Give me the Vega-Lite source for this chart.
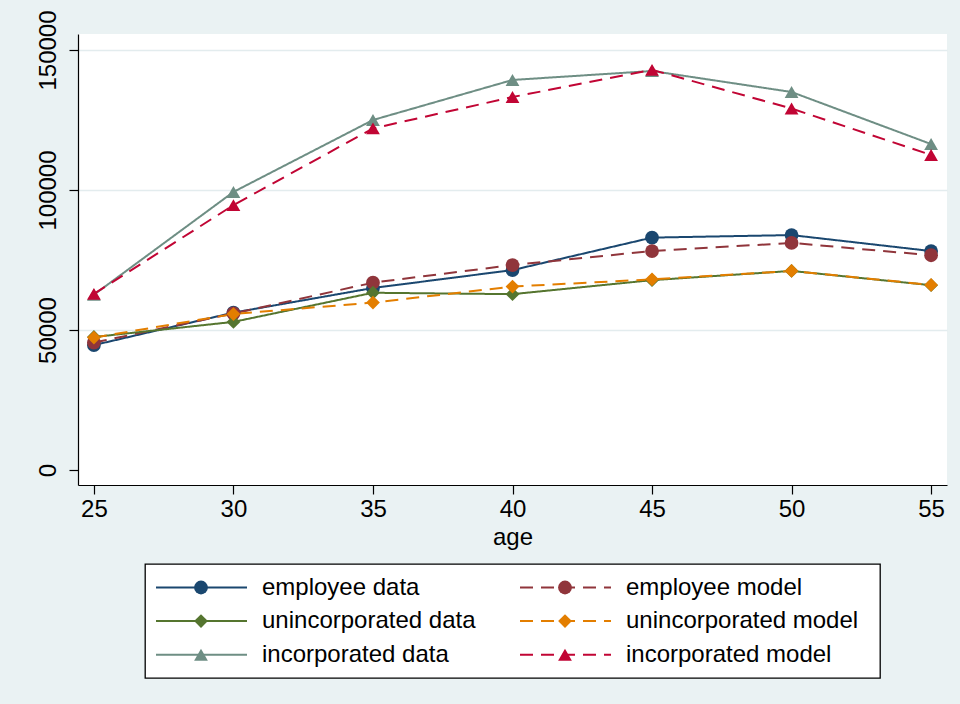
{
  "$schema": "https://vega.github.io/schema/vega-lite/v6.json",
  "autosize": {"type": "pad"},
  "padding": {"left": 35, "top": 9, "right": 14, "bottom": 27},
  "background": "#EAF2F3",
  "bounds": "flush",
  "center": true,
  "spacing": 79,
  "config": {
    "view": {"fill": "white", "stroke": null},
    "font": "Liberation Sans",
    "axis": {
      "labelFont": "Liberation Sans",
      "labelFontSize": 24,
      "labelColor": "black",
      "titleFont": "Liberation Sans",
      "titleFontSize": 24,
      "titleFontWeight": "normal",
      "titleColor": "black",
      "domainColor": "black",
      "domainWidth": 1.2,
      "tickColor": "black",
      "tickWidth": 1.2,
      "tickSize": 9
    }
  },
  "datasets": {
    "points": [
      {"series": "employee data", "age": 25, "value": 44600},
      {"series": "employee data", "age": 30, "value": 56200},
      {"series": "employee data", "age": 35, "value": 65000},
      {"series": "employee data", "age": 40, "value": 71400},
      {"series": "employee data", "age": 45, "value": 83000},
      {"series": "employee data", "age": 50, "value": 83900},
      {"series": "employee data", "age": 55, "value": 78200},
      {"series": "employee model", "age": 25, "value": 45500},
      {"series": "employee model", "age": 30, "value": 55900},
      {"series": "employee model", "age": 35, "value": 66900},
      {"series": "employee model", "age": 40, "value": 73200},
      {"series": "employee model", "age": 45, "value": 78200},
      {"series": "employee model", "age": 50, "value": 81100},
      {"series": "employee model", "age": 55, "value": 76700},
      {"series": "unincorporated data", "age": 25, "value": 47500},
      {"series": "unincorporated data", "age": 30, "value": 52900},
      {"series": "unincorporated data", "age": 35, "value": 63300},
      {"series": "unincorporated data", "age": 40, "value": 62800},
      {"series": "unincorporated data", "age": 45, "value": 67800},
      {"series": "unincorporated data", "age": 50, "value": 71100},
      {"series": "unincorporated data", "age": 55, "value": 66000},
      {"series": "unincorporated model", "age": 25, "value": 47300},
      {"series": "unincorporated model", "age": 30, "value": 55700},
      {"series": "unincorporated model", "age": 35, "value": 59800},
      {"series": "unincorporated model", "age": 40, "value": 65500},
      {"series": "unincorporated model", "age": 45, "value": 68100},
      {"series": "unincorporated model", "age": 50, "value": 71100},
      {"series": "unincorporated model", "age": 55, "value": 66100},
      {"series": "incorporated data", "age": 25, "value": 62600},
      {"series": "incorporated data", "age": 30, "value": 99300},
      {"series": "incorporated data", "age": 35, "value": 125000},
      {"series": "incorporated data", "age": 40, "value": 139300},
      {"series": "incorporated data", "age": 45, "value": 142500},
      {"series": "incorporated data", "age": 50, "value": 135000},
      {"series": "incorporated data", "age": 55, "value": 116400},
      {"series": "incorporated model", "age": 25, "value": 62900},
      {"series": "incorporated model", "age": 30, "value": 94600},
      {"series": "incorporated model", "age": 35, "value": 122000},
      {"series": "incorporated model", "age": 40, "value": 133200},
      {"series": "incorporated model", "age": 45, "value": 142900},
      {"series": "incorporated model", "age": 50, "value": 129100},
      {"series": "incorporated model", "age": 55, "value": 112500}
    ],
    "legendEntries": [
      {"series": "employee data", "group": "employee", "kind": "data"},
      {"series": "employee model", "group": "employee", "kind": "model"},
      {"series": "unincorporated data", "group": "unincorporated", "kind": "data"},
      {"series": "unincorporated model", "group": "unincorporated", "kind": "model"},
      {"series": "incorporated data", "group": "incorporated", "kind": "data"},
      {"series": "incorporated model", "group": "incorporated", "kind": "model"}
    ]
  },
  "vconcat": [
    {
      "width": 869,
      "height": 451,
      "data": {"name": "points"},
      "encoding": {
        "x": {
          "field": "age", "type": "quantitative",
          "scale": {"domain": [24.43, 55.57], "nice": false, "zero": false},
          "axis": {"title": "age", "values": [25, 30, 35, 40, 45, 50, 55], "format": "d", "grid": false, "labelPadding": 3, "titlePadding": 4, "labelFlush": false}
        },
        "y": {
          "field": "value", "type": "quantitative",
          "scale": {"domain": [-5357, 155714], "nice": false, "zero": false},
          "axis": {
            "title": null, "values": [0, 50000, 100000, 150000], "format": "d",
            "labelAngle": -90, "labelAlign": "center", "labelBaseline": "bottom", "labelPadding": 9,
            "grid": true, "gridColor": "#E3ECEE", "gridWidth": 1.5,
            "gridOpacity": {"condition": {"test": "datum.value === 0", "value": 0}, "value": 1},
            "labelFlush": false
          }
        }
      },
      "layer": [
        {
          "mark": {"type": "line", "strokeWidth": 2},
          "encoding": {
            "color": {
              "field": "series", "type": "nominal", "legend": null,
              "scale": {
                "domain": ["employee data", "employee model", "unincorporated data", "unincorporated model", "incorporated data", "incorporated model"],
                "range": ["#1A476F", "#90353B", "#55752F", "#E37E00", "#6E8E84", "#C10534"]
              }
            },
            "strokeDash": {
              "field": "series", "type": "nominal", "legend": null,
              "scale": {
                "domain": ["employee data", "employee model", "unincorporated data", "unincorporated model", "incorporated data", "incorporated model"],
                "range": [[1, 0], [13, 8], [1, 0], [13, 8], [1, 0], [13, 8]]
              }
            }
          }
        },
        {
          "mark": {"type": "point", "filled": true, "opacity": 1},
          "encoding": {
            "color": {
              "field": "series", "type": "nominal", "legend": null,
              "scale": {
                "domain": ["employee data", "employee model", "unincorporated data", "unincorporated model", "incorporated data", "incorporated model"],
                "range": ["#1A476F", "#90353B", "#55752F", "#E37E00", "#6E8E84", "#C10534"]
              }
            },
            "shape": {
              "field": "series", "type": "nominal", "legend": null,
              "scale": {
                "domain": ["employee data", "employee model", "unincorporated data", "unincorporated model", "incorporated data", "incorporated model"],
                "range": ["circle", "circle", "diamond", "diamond", "triangle-up", "triangle-up"]
              }
            },
            "size": {
              "field": "series", "type": "nominal", "legend": null,
              "scale": {
                "domain": ["employee data", "employee model", "unincorporated data", "unincorporated model", "incorporated data", "incorporated model"],
                "range": [190, 190, 450, 450, 300, 300]
              }
            }
          }
        }
      ]
    },
    {
      "width": 735,
      "height": 114,
      "view": {"fill": "white", "stroke": "black", "strokeWidth": 1.3},
      "data": {"name": "legendEntries"},
      "encoding": {
        "x": {
          "field": "kind", "type": "nominal", "axis": null,
          "scale": {"type": "point", "domain": ["data", "model"], "range": [56, 420], "padding": 0}
        },
        "y": {
          "field": "group", "type": "nominal", "axis": null,
          "scale": {"type": "point", "domain": ["employee", "unincorporated", "incorporated"], "range": [23.5, 90.7], "padding": 0}
        }
      },
      "layer": [
        {
          "mark": {"type": "rule", "strokeWidth": 2, "xOffset": -45, "x2Offset": 46},
          "encoding": {
            "x2": {"field": "kind"},
            "color": {
              "field": "series", "type": "nominal", "legend": null,
              "scale": {
                "domain": ["employee data", "employee model", "unincorporated data", "unincorporated model", "incorporated data", "incorporated model"],
                "range": ["#1A476F", "#90353B", "#55752F", "#E37E00", "#6E8E84", "#C10534"]
              }
            },
            "strokeDash": {
              "field": "series", "type": "nominal", "legend": null,
              "scale": {
                "domain": ["employee data", "employee model", "unincorporated data", "unincorporated model", "incorporated data", "incorporated model"],
                "range": [[1, 0], [13, 8], [1, 0], [13, 8], [1, 0], [13, 8]]
              }
            }
          }
        },
        {
          "mark": {"type": "point", "filled": true, "opacity": 1},
          "encoding": {
            "color": {
              "field": "series", "type": "nominal", "legend": null,
              "scale": {
                "domain": ["employee data", "employee model", "unincorporated data", "unincorporated model", "incorporated data", "incorporated model"],
                "range": ["#1A476F", "#90353B", "#55752F", "#E37E00", "#6E8E84", "#C10534"]
              }
            },
            "shape": {
              "field": "series", "type": "nominal", "legend": null,
              "scale": {
                "domain": ["employee data", "employee model", "unincorporated data", "unincorporated model", "incorporated data", "incorporated model"],
                "range": ["circle", "circle", "diamond", "diamond", "triangle-up", "triangle-up"]
              }
            },
            "size": {
              "field": "series", "type": "nominal", "legend": null,
              "scale": {
                "domain": ["employee data", "employee model", "unincorporated data", "unincorporated model", "incorporated data", "incorporated model"],
                "range": [190, 190, 450, 450, 300, 300]
              }
            }
          }
        },
        {
          "mark": {"type": "text", "align": "left", "baseline": "middle", "dx": 61, "fontSize": 24, "font": "Liberation Sans", "color": "black"},
          "encoding": {
            "text": {"field": "series", "type": "nominal"}
          }
        }
      ]
    }
  ]
}
